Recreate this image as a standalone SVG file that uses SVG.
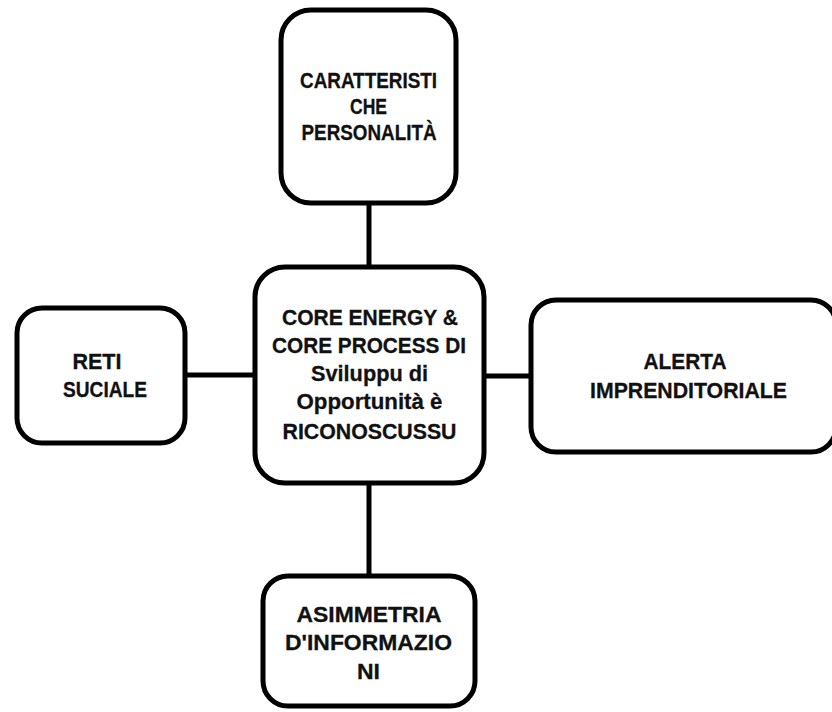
<svg xmlns="http://www.w3.org/2000/svg" width="832" height="712" viewBox="0 0 832 712">
  <style>
    .box { fill: #ffffff; stroke: #000000; stroke-width: 5; }
    .link { stroke: #000000; stroke-width: 5; fill: none; }
    .label { font-family: "Liberation Sans", Arial, sans-serif; font-weight: bold; font-size: 22.5px; fill: #111111; stroke: #111111; stroke-width: 0.3; text-anchor: middle; }
  </style>
  <rect width="832" height="712" fill="#ffffff"/>

  <!-- connectors from the central node to the four satellites -->
  <g id="connectors">
    <line class="link" x1="369" y1="204" x2="369" y2="267"/>
    <line class="link" x1="185" y1="375" x2="255" y2="375"/>
    <line class="link" x1="484" y1="376" x2="531" y2="376"/>
    <line class="link" x1="369" y1="483" x2="369" y2="576"/>
  </g>

  <g id="node-personalita">
    <rect class="box" x="281" y="10" width="175" height="193" rx="30" ry="30"/>
    <text class="label" x="368.5" y="88" textLength="137" lengthAdjust="spacingAndGlyphs">CARATTERISTI</text>
    <text class="label" x="368.5" y="114" textLength="37" lengthAdjust="spacingAndGlyphs">CHE</text>
    <text class="label" x="369" y="140" textLength="135" lengthAdjust="spacingAndGlyphs">PERSONALITÀ</text>
  </g>

  <g id="node-core">
    <rect class="box" x="255" y="267" width="229" height="216" rx="30" ry="30"/>
    <text class="label" x="370" y="325" textLength="176" lengthAdjust="spacingAndGlyphs">CORE ENERGY &amp;</text>
    <text class="label" x="369" y="353" textLength="194" lengthAdjust="spacingAndGlyphs">CORE PROCESS DI</text>
    <text class="label" x="369.5" y="381" textLength="117" lengthAdjust="spacingAndGlyphs">Sviluppu di</text>
    <text class="label" x="369.5" y="409" textLength="146" lengthAdjust="spacingAndGlyphs">Opportunità è</text>
    <text class="label" x="369.5" y="439" textLength="174" lengthAdjust="spacingAndGlyphs">RICONOSCUSSU</text>
  </g>

  <g id="node-reti">
    <rect class="box" x="17" y="308" width="168" height="135" rx="25" ry="25"/>
    <text class="label" x="97" y="369" textLength="49" lengthAdjust="spacingAndGlyphs">RETI</text>
    <text class="label" x="105" y="397" textLength="84" lengthAdjust="spacingAndGlyphs">SUCIALE</text>
  </g>

  <g id="node-alerta">
    <rect class="box" x="531" y="300" width="305" height="152" rx="25" ry="25"/>
    <text class="label" x="685" y="369" textLength="83" lengthAdjust="spacingAndGlyphs">ALERTA</text>
    <text class="label" x="688.5" y="398" textLength="197" lengthAdjust="spacingAndGlyphs">IMPRENDITORIALE</text>
  </g>

  <g id="node-asimmetria">
    <rect class="box" x="263" y="576" width="212" height="130" rx="25" ry="25"/>
    <text class="label" x="369" y="622" textLength="145" lengthAdjust="spacingAndGlyphs">ASIMMETRIA</text>
    <text class="label" x="368.5" y="650" textLength="167" lengthAdjust="spacingAndGlyphs">D'INFORMAZIO</text>
    <text class="label" x="368.5" y="679" textLength="23" lengthAdjust="spacingAndGlyphs">NI</text>
  </g>
</svg>
